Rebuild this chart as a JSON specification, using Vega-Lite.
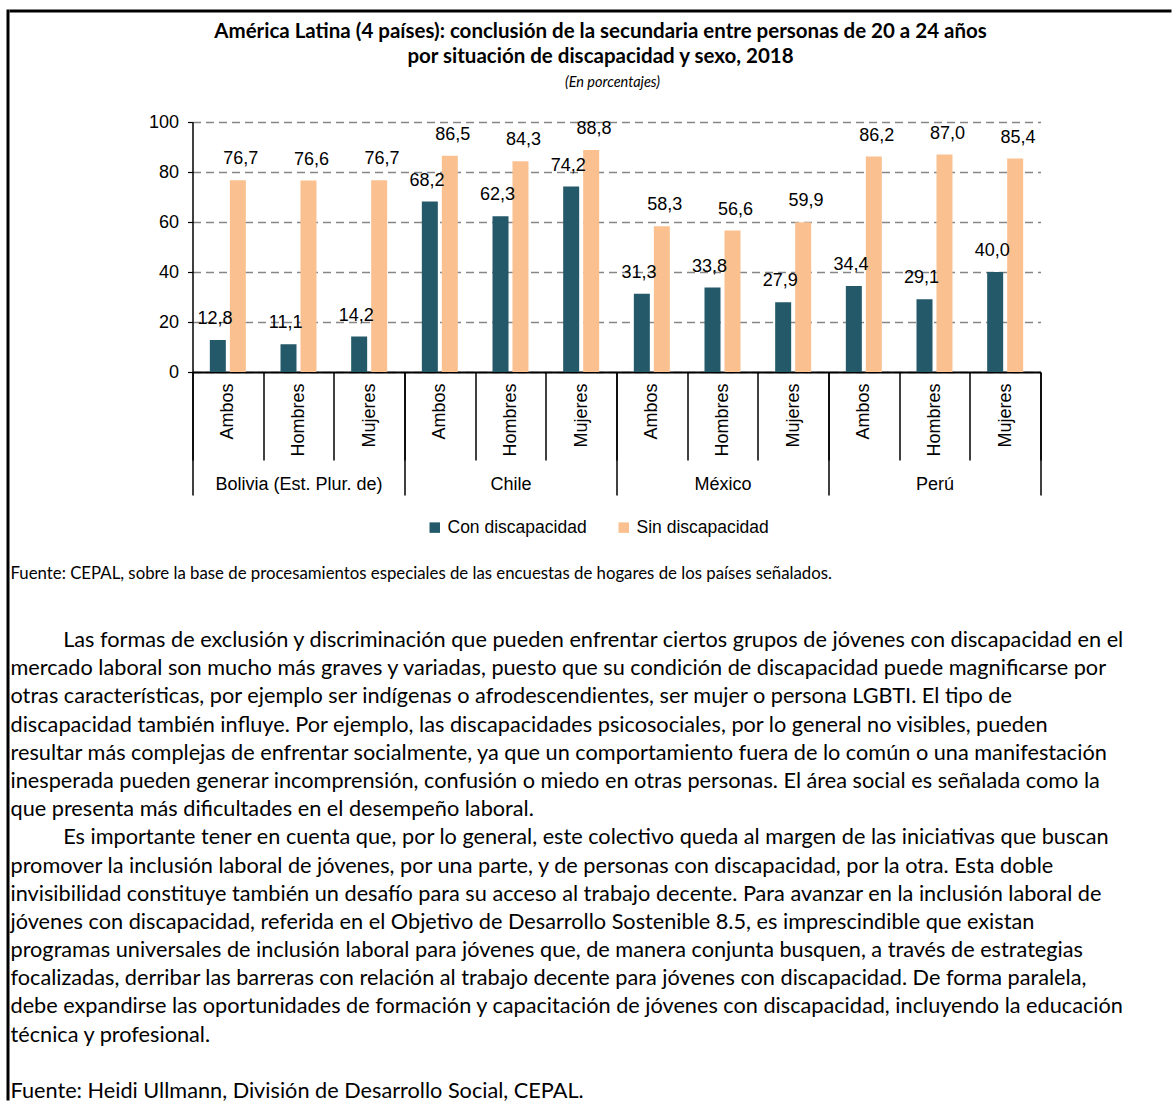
{
  "$schema": "https://vega.github.io/schema/vega-lite/v6.json",
  "padding": {"left": 6.5, "top": 9.5, "right": 0, "bottom": 0},
  "background": "white",
  "spacing": 0,
  "config": {
    "view": {"stroke": null},
    "locale": {"number": {"decimal": ",", "thousands": ".", "grouping": [3], "currency": ["", ""]}},
    "font": "Liberation Sans"
  },
  "hconcat": [
    {
      "data": {"values": []},
      "mark": {"type": "point"},
      "width": 1,
      "height": 1089,
      "view": {"stroke": "black", "strokeWidth": 2}
    },
    {
      "spacing": 5.5,
      "vconcat": [
        {
          "data": {"values": []},
          "mark": {"type": "point"},
          "width": 1160,
          "height": 1,
          "view": {"stroke": "black", "strokeWidth": 2},
          "title": {
            "text": ["América Latina (4 países): conclusión de la secundaria entre personas de 20 a 24 años", "por situación de discapacidad y sexo, 2018"],
            "orient": "bottom",
            "anchor": "middle",
            "dx": 10,
            "offset": 10,
            "font": "Lato",
            "fontSize": 20.5,
            "fontWeight": "bold",
            "lineHeight": 25,
            "color": "black"
          }
        },
        {
          "spacing": 70,
          "vconcat": [
            {
              "spacing": 0,
              "hconcat": [
                {
                  "data": {"values": []},
                  "mark": {"type": "point"},
                  "width": 1,
                  "height": 1
                },
                {
                  "width": 848,
                  "height": 250,
                  "title": {
                    "text": "(En porcentajes)",
                    "orient": "top",
                    "anchor": "middle",
                    "dx": -4,
                    "offset": 23,
                    "font": "Lato",
                    "fontSize": 14.5,
                    "fontStyle": "italic",
                    "fontWeight": "normal",
                    "color": "black"
                  },
                  "data": {
                    "values": [
                      {"pais": "Bolivia (Est. Plur. de)", "sexo": "Ambos", "condicion": "Con discapacidad", "valor": 12.8},
                      {"pais": "Bolivia (Est. Plur. de)", "sexo": "Ambos", "condicion": "Sin discapacidad", "valor": 76.7},
                      {"pais": "Bolivia (Est. Plur. de)", "sexo": "Hombres", "condicion": "Con discapacidad", "valor": 11.1},
                      {"pais": "Bolivia (Est. Plur. de)", "sexo": "Hombres", "condicion": "Sin discapacidad", "valor": 76.6},
                      {"pais": "Bolivia (Est. Plur. de)", "sexo": "Mujeres", "condicion": "Con discapacidad", "valor": 14.2},
                      {"pais": "Bolivia (Est. Plur. de)", "sexo": "Mujeres", "condicion": "Sin discapacidad", "valor": 76.7},
                      {"pais": "Chile", "sexo": "Ambos", "condicion": "Con discapacidad", "valor": 68.2},
                      {"pais": "Chile", "sexo": "Ambos", "condicion": "Sin discapacidad", "valor": 86.5},
                      {"pais": "Chile", "sexo": "Hombres", "condicion": "Con discapacidad", "valor": 62.3},
                      {"pais": "Chile", "sexo": "Hombres", "condicion": "Sin discapacidad", "valor": 84.3},
                      {"pais": "Chile", "sexo": "Mujeres", "condicion": "Con discapacidad", "valor": 74.2},
                      {"pais": "Chile", "sexo": "Mujeres", "condicion": "Sin discapacidad", "valor": 88.8},
                      {"pais": "México", "sexo": "Ambos", "condicion": "Con discapacidad", "valor": 31.3},
                      {"pais": "México", "sexo": "Ambos", "condicion": "Sin discapacidad", "valor": 58.3},
                      {"pais": "México", "sexo": "Hombres", "condicion": "Con discapacidad", "valor": 33.8},
                      {"pais": "México", "sexo": "Hombres", "condicion": "Sin discapacidad", "valor": 56.6},
                      {"pais": "México", "sexo": "Mujeres", "condicion": "Con discapacidad", "valor": 27.9},
                      {"pais": "México", "sexo": "Mujeres", "condicion": "Sin discapacidad", "valor": 59.9},
                      {"pais": "Perú", "sexo": "Ambos", "condicion": "Con discapacidad", "valor": 34.4},
                      {"pais": "Perú", "sexo": "Ambos", "condicion": "Sin discapacidad", "valor": 86.2},
                      {"pais": "Perú", "sexo": "Hombres", "condicion": "Con discapacidad", "valor": 29.1},
                      {"pais": "Perú", "sexo": "Hombres", "condicion": "Sin discapacidad", "valor": 87.0},
                      {"pais": "Perú", "sexo": "Mujeres", "condicion": "Con discapacidad", "valor": 40.0},
                      {"pais": "Perú", "sexo": "Mujeres", "condicion": "Sin discapacidad", "valor": 85.4}
                    ]
                  },
                  "transform": [{"calculate": "datum.pais + '|' + datum.sexo", "as": "grupo"}],
                  "layer": [
                    {
                      "mark": {"type": "bar"},
                      "encoding": {
                        "x": {
                          "field": "grupo", "type": "nominal", "sort": null,
                          "scale": {"paddingInner": 0, "paddingOuter": 0},
                          "axis": {
                            "orient": "bottom", "title": null, "grid": false,
                            "domain": true, "domainColor": "black", "domainWidth": 2,
                            "ticks": true, "tickBand": "extent", "tickSize": 88, "tickColor": "black", "tickWidth": 1.5,
                            "labelAngle": -90, "labelAlign": "right", "labelBaseline": "middle", "labelPadding": -77,
                            "labelExpr": "split(datum.label, '|')[1]",
                            "labelFont": "Liberation Sans", "labelFontSize": 18, "labelColor": "black"
                          }
                        },
                        "xOffset": {
                          "field": "condicion", "type": "nominal", "sort": ["Con discapacidad", "Sin discapacidad"],
                          "scale": {"paddingInner": 0.2, "paddingOuter": 0.867}
                        },
                        "y": {
                          "field": "valor", "type": "quantitative",
                          "scale": {"domain": [0, 100]},
                          "axis": {
                            "title": null, "values": [0, 10, 20, 30, 40, 50, 60, 70, 80, 90, 100],
                            "grid": true, "gridDash": [8, 5], "gridColor": "#868686", "gridWidth": 1.5,
                            "domain": true, "domainColor": "black", "domainWidth": 1.5,
                            "ticks": true, "tickSize": 5, "tickColor": "black", "tickWidth": 1.2,
                            "labelFont": "Liberation Sans", "labelFontSize": 18, "labelColor": "black", "labelPadding": 9,
                            "minExtent": 180.5
                          }
                        },
                        "color": {
                          "field": "condicion", "type": "nominal",
                          "scale": {"domain": ["Con discapacidad", "Sin discapacidad"], "range": ["#235968", "#FAC090"]},
                          "legend": {
                            "orient": "none", "legendX": 418.5, "legendY": 508, "direction": "horizontal", "title": null,
                            "symbolType": "square", "symbolSize": 110, "symbolStrokeWidth": 0,
                            "labelFont": "Liberation Sans", "labelFontSize": 17.5, "labelColor": "black",
                            "labelOffset": 4, "columnPadding": 28, "padding": 0
                          }
                        }
                      }
                    },
                    {
                      "mark": {"type": "text", "baseline": "middle", "dy": -21, "fontSize": 18, "font": "Liberation Sans", "color": "black"},
                      "encoding": {
                        "x": {"field": "grupo", "type": "nominal", "sort": null, "scale": {"paddingInner": 0, "paddingOuter": 0}, "axis": null},
                        "xOffset": {
                          "field": "condicion", "type": "nominal", "sort": ["Con discapacidad", "Sin discapacidad"],
                          "scale": {"paddingInner": 0.2, "paddingOuter": 0.867}
                        },
                        "y": {"field": "valor", "type": "quantitative"},
                        "text": {"field": "valor", "type": "quantitative", "format": ".1f"}
                      }
                    },
                    {
                      "mark": {"type": "rule", "opacity": 0},
                      "encoding": {
                        "x": {
                          "field": "pais", "type": "nominal", "sort": null,
                          "scale": {"paddingInner": 0, "paddingOuter": 0},
                          "axis": {
                            "orient": "bottom", "title": null, "grid": false, "domain": false,
                            "ticks": true, "tickBand": "extent", "tickSize": 123, "tickColor": "black", "tickWidth": 1.5,
                            "labelAngle": 0, "labelAlign": "center", "labelBaseline": "top", "labelPadding": -20,
                            "labelFont": "Liberation Sans", "labelFontSize": 18, "labelColor": "black"
                          }
                        }
                      }
                    }
                  ],
                  "resolve": {"scale": {"x": "independent", "xOffset": "independent"}}
                }
              ]
            },
            {
              "width": 1153,
              "height": 451,
              "title": {
                "text": "Fuente: CEPAL, sobre la base de procesamientos especiales de las encuestas de hogares de los países señalados.",
                "orient": "top",
                "anchor": "start",
                "frame": "bounds",
                "offset": 47,
                "font": "Lato",
                "fontSize": 16.8,
                "fontWeight": "normal",
                "color": "black"
              },
              "data": {
                "values": [
                  {"linea": 1, "texto": "\u200b\u00a0\u00a0\u00a0\u00a0\u00a0\u00a0\u00a0\u00a0\u00a0\u2009Las formas de exclusión y discriminación que pueden enfrentar ciertos grupos de jóvenes con discapacidad en el"},
                  {"linea": 2, "texto": "mercado laboral son mucho más graves y variadas, puesto que su condición de discapacidad puede magnificarse por"},
                  {"linea": 3, "texto": "otras características, por ejemplo ser indígenas o afrodescendientes, ser mujer o persona LGBTI. El tipo de"},
                  {"linea": 4, "texto": "discapacidad también influye. Por ejemplo, las discapacidades psicosociales, por lo general no visibles, pueden"},
                  {"linea": 5, "texto": "resultar más complejas de enfrentar socialmente, ya que un comportamiento fuera de lo común o una manifestación"},
                  {"linea": 6, "texto": "inesperada pueden generar incomprensión, confusión o miedo en otras personas. El área social es señalada como la"},
                  {"linea": 7, "texto": "que presenta más dificultades en el desempeño laboral."},
                  {"linea": 8, "texto": "\u200b\u00a0\u00a0\u00a0\u00a0\u00a0\u00a0\u00a0\u00a0\u00a0\u2009Es importante tener en cuenta que, por lo general, este colectivo queda al margen de las iniciativas que buscan"},
                  {"linea": 9, "texto": "promover la inclusión laboral de jóvenes, por una parte, y de personas con discapacidad, por la otra. Esta doble"},
                  {"linea": 10, "texto": "invisibilidad constituye también un desafío para su acceso al trabajo decente. Para avanzar en la inclusión laboral de"},
                  {"linea": 11, "texto": "jóvenes con discapacidad, referida en el Objetivo de Desarrollo Sostenible 8.5, es imprescindible que existan"},
                  {"linea": 12, "texto": "programas universales de inclusión laboral para jóvenes que, de manera conjunta busquen, a través de estrategias"},
                  {"linea": 13, "texto": "focalizadas, derribar las barreras con relación al trabajo decente para jóvenes con discapacidad. De forma paralela,"},
                  {"linea": 14, "texto": "debe expandirse las oportunidades de formación y capacitación de jóvenes con discapacidad, incluyendo la educación"},
                  {"linea": 15, "texto": "técnica y profesional."},
                  {"linea": 17, "texto": "Fuente: Heidi Ullmann, División de Desarrollo Social, CEPAL."}
                ]
              },
              "mark": {"type": "text", "align": "left", "baseline": "middle", "font": "Lato", "fontSize": 21.7, "color": "black"},
              "encoding": {
                "x": {"datum": 0, "type": "quantitative", "scale": {"domain": [0, 1]}, "axis": null},
                "y": {"field": "linea", "type": "quantitative", "scale": {"domain": [1, 17], "reverse": true}, "axis": null},
                "text": {"field": "texto"}
              }
            }
          ]
        }
      ]
    }
  ]
}
